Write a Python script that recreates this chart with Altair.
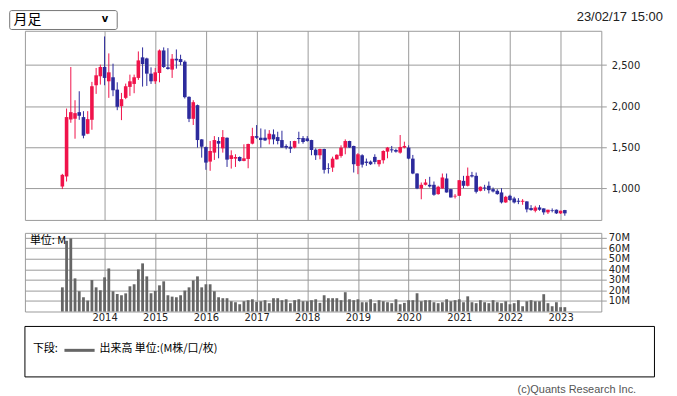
import altair as alt
import pandas as pd

# ---------------- data (monthly candles, March 2013 - February 2023) ----------------
start_month = "2013-03"
opens = [1024, 1146, 1839, 1848, 1928, 1868, 1666, 1835, 2255, 2364,
         2477, 2303, 2352, 2202, 2001, 2102, 2235, 2271, 2344, 2594,
         2581, 2396, 2303, 2404, 2678, 2473, 2445, 2577, 2573, 2541,
         2114, 1847, 2013, 1597, 1504, 1327, 1436, 1577, 1488, 1617,
         1359, 1363, 1383, 1335, 1359, 1545, 1637, 1617, 1617, 1597,
         1658, 1625, 1589, 1517, 1508, 1497, 1613, 1613, 1609, 1589,
         1472, 1404, 1480, 1246, 1254, 1355, 1396, 1497, 1577, 1517,
         1275, 1404, 1327, 1327, 1384, 1295, 1343, 1448, 1476, 1468,
         1436, 1497, 1497, 1363, 1182, 1000, 1045, 1045, 1045, 932,
         1000, 1122, 992, 903, 911, 1093, 1033, 1162, 1154, 972,
         1012, 1033, 992, 972, 952, 831, 911, 879, 851, 839,
         843, 762, 730, 770, 758, 710, 738, 742, 698, 738]
highs = [1178, 1972, 2477, 2073, 2182, 1940, 1940, 2296, 2465, 2505,
         2848, 2642, 2517, 2291, 2162, 2275, 2384, 2384, 2666, 2715,
         2590, 2473, 2465, 2690, 2715, 2706, 2634, 2690, 2626, 2557,
         2120, 2073, 2020, 1600, 1510, 1577, 1637, 1625, 1710, 1620,
         1464, 1416, 1390, 1537, 1545, 1738, 1771, 1730, 1718, 1710,
         1718, 1690, 1702, 1537, 1577, 1580, 1690, 1637, 1637, 1592,
         1488, 1484, 1484, 1307, 1387, 1416, 1525, 1597, 1580, 1520,
         1430, 1416, 1364, 1340, 1416, 1347, 1464, 1505, 1517, 1484,
         1650, 1569, 1525, 1408, 1185, 1073, 1114, 1142, 1085, 1033,
         1182, 1182, 995, 932, 1101, 1154, 1255, 1202, 1194, 1025,
         1045, 1085, 1012, 992, 1004, 911, 924, 899, 883, 871,
         845, 798, 790, 798, 760, 742, 758, 745, 730, 740]
lows = [993, 1085, 1799, 1605, 1835, 1610, 1660, 1714, 2150, 2263,
        2255, 2102, 2122, 1952, 1831, 2086, 2126, 2158, 2320, 2239,
        2247, 2271, 2271, 2291, 2465, 2445, 2344, 2457, 2500, 2094,
        1807, 1772, 1497, 1375, 1227, 1215, 1347, 1367, 1436, 1262,
        1242, 1262, 1327, 1331, 1246, 1537, 1605, 1497, 1577, 1537,
        1537, 1537, 1495, 1476, 1432, 1488, 1545, 1545, 1569, 1404,
        1347, 1355, 1182, 1182, 1202, 1351, 1375, 1416, 1494, 1194,
        1174, 1255, 1275, 1285, 1295, 1266, 1303, 1367, 1436, 1436,
        1424, 1488, 1355, 1174, 992, 869, 1037, 1012, 912, 924,
        998, 950, 891, 879, 909, 1004, 1025, 1134, 940, 965,
        972, 940, 952, 924, 818, 825, 851, 818, 810, 802,
        710, 730, 710, 730, 681, 690, 710, 690, 690, 669]
closes = [1166, 1868, 1928, 1916, 1884, 1642, 1843, 2243, 2376, 2477,
          2344, 2412, 2194, 1993, 2086, 2243, 2303, 2352, 2557, 2513,
          2396, 2303, 2412, 2678, 2477, 2453, 2577, 2557, 2537, 2110,
          1847, 2049, 1589, 1508, 1315, 1456, 1589, 1545, 1625, 1351,
          1404, 1383, 1335, 1367, 1541, 1637, 1617, 1589, 1585, 1666,
          1597, 1577, 1497, 1497, 1484, 1577, 1601, 1565, 1577, 1468,
          1404, 1480, 1227, 1238, 1363, 1410, 1497, 1577, 1497, 1295,
          1416, 1290, 1311, 1295, 1323, 1347, 1456, 1497, 1464, 1448,
          1505, 1517, 1363, 1182, 1000, 1045, 1073, 1025, 924, 1021,
          1134, 952, 891, 911, 1101, 1033, 1154, 1146, 960, 1021,
          1000, 980, 964, 932, 831, 899, 859, 831, 839, 851,
          746, 738, 770, 742, 710, 742, 730, 698, 730, 698]
volumes_m = [22.9, 67.0, 69.2, 31.4, 19.2, 13.5, 10.4, 29.8, 22.9, 20.1,
             32.4, 40.8, 19.2, 16.6, 15.4, 17.2, 23.9, 25.8, 39.9, 45.6,
             33.3, 17.2, 19.5, 24.8, 28.6, 15.4, 14.1, 13.5, 15.4, 19.8,
             22.9, 29.5, 33.3, 22.9, 25.8, 25.8, 19.2, 13.5, 12.6, 12.6,
             9.7, 8.8, 6.9, 9.7, 10.7, 11.6, 9.1, 9.7, 10.7, 7.9,
             12.6, 12.6, 10.7, 11.6, 7.9, 10.7, 11.6, 9.7, 9.7, 10.7,
             11.6, 8.2, 15.4, 12.6, 12.6, 12.6, 10.7, 18.3, 11.6, 10.7,
             11.6, 8.8, 8.8, 11.6, 7.9, 10.7, 9.7, 8.8, 7.9, 11.6,
             6.9, 8.2, 10.7, 10.7, 17.3, 9.7, 10.7, 10.7, 8.8, 7.9,
             8.8, 11.6, 9.7, 10.7, 11.6, 8.8, 14.4, 8.8, 7.9, 10.7,
             8.8, 7.9, 10.7, 8.8, 7.9, 9.7, 6.9, 7.9, 10.7, 5.0,
             9.7, 10.7, 9.7, 9.7, 16.4, 7.9, 5.0, 8.8, 4.1, 4.1]

year_ticks = list(range(2014, 2024))
price_ticks = [1000, 1500, 2000, 2500]
volume_ticks = [10, 20, 30, 40, 50, 60, 70]

months = pd.period_range(start_month, periods=len(opens), freq="M")
df = pd.DataFrame({
    "t": [p.year + (p.month - 1) / 12 for p in months],
    "open": opens, "high": highs, "low": lows, "close": closes,
    "vol": volumes_m,
})
df["dir"] = ["up" if c >= o else "down" for o, c in zip(opens, closes)]

GRID = "#9a9a9a"
NUM_FONT = "DejaVu Sans"
JP_FONT = "Noto Sans CJK JP"

xscale = alt.Scale(domain=[2012.428, 2023.803], nice=False, zero=False, padding=0)
color = alt.Color("dir:N", scale=alt.Scale(domain=["up", "down"], range=["#f0134b", "#2c2a9c"]), legend=None)

x_price = alt.X("t:Q", scale=xscale,
                axis=alt.Axis(values=year_ticks, labels=False, ticks=False, domain=False,
                              grid=True, title=None))
price_axis = alt.Axis(orient="right", values=price_ticks, labelExpr="format(datum.value, ',')",
                      tickSize=5, labelPadding=5, grid=True, domain=False, title=None, tickColor=GRID)
pscale = alt.Scale(domain=[618, 2917], nice=False, zero=False, padding=0)

base = alt.Chart(df)
wicks = base.mark_rule(strokeWidth=1).encode(
    x=x_price,
    y=alt.Y("low:Q", scale=pscale, axis=price_axis),
    y2="high:Q",
    color=color,
)
bodies = base.mark_bar(size=3.6).encode(
    x=x_price,
    y=alt.Y("open:Q", scale=pscale, axis=price_axis),
    y2="close:Q",
    color=color,
)

one = pd.DataFrame({"a": [0]})
sel_box = alt.Chart(one).mark_rect(fill="white", stroke="#767676", strokeWidth=1, cornerRadius=2).encode(
    x=alt.value(-15.3), x2=alt.value(92.7), y=alt.value(-20.3), y2=alt.value(-1.3))
sel_text = alt.Chart(one).mark_text(font=JP_FONT, fontSize=14, align="left", baseline="middle",
                                    color="#000", text="月足").encode(
    x=alt.value(-11.5), y=alt.value(-11))
sel_chev = alt.Chart(one).mark_text(font=NUM_FONT, fontSize=10, fontWeight="bold", align="center",
                                    baseline="middle", color="#000", text="v").encode(
    x=alt.value(80.5), y=alt.value(-11.5))
date_text = alt.Chart(one).mark_text(font="Liberation Sans", fontSize=13, align="right",
                                     baseline="middle", color="#222", text="23/02/17 15:00").encode(
    x=alt.value(641), y=alt.value(-13.5))

price = alt.layer(sel_box, sel_text, sel_chev, date_text, wicks, bodies).properties(width=579, height=190)

# ---------------- volume panel ----------------
x_vol = alt.X("t:Q", scale=xscale,
              axis=alt.Axis(values=year_ticks, format="d", ticks=False, domain=False, grid=True,
                            title=None, labelPadding=1, labelFont=NUM_FONT, labelFontSize=10))
vol_bars = base.mark_bar(size=2.8, color="#666666").encode(
    x=x_vol,
    y=alt.Y("vol:Q", scale=alt.Scale(domain=[0, 74.5], nice=False, padding=0),
            axis=alt.Axis(orient="right", values=volume_ticks, labelExpr="datum.value + 'M'",
                          tickSize=5, labelPadding=2, grid=True, domain=False, title=None,
                          tickColor=GRID)),
)
unit_text = alt.Chart(one).mark_text(font=JP_FONT, fontSize=11, align="left", baseline="middle",
                                     color="#000", text="単位: M").encode(
    x=alt.value(5), y=alt.value(8))
legend_box = alt.Chart(one).mark_rect(fill="white", stroke="#000", strokeWidth=1).encode(
    x=alt.value(0), x2=alt.value(632.4), y=alt.value(94), y2=alt.value(144.7))
leg_lbl = alt.Chart(one).mark_text(font=JP_FONT, fontSize=11, align="left", baseline="middle",
                                   color="#000", text="下段:").encode(
    x=alt.value(8), y=alt.value(117))
leg_line = alt.Chart(one).mark_rule(color="#666666", strokeWidth=3).encode(
    x=alt.value(39.7), x2=alt.value(70), y=alt.value(118))
leg_txt = alt.Chart(one).mark_text(font=JP_FONT, fontSize=11, align="left", baseline="middle",
                                   color="#000", text="出来高 単位:(M株/口/枚)").encode(
    x=alt.value(75), y=alt.value(117))
copy_txt = alt.Chart(one).mark_text(font="Liberation Sans", fontSize=11, align="right",
                                    baseline="middle", color="#555", text="(c)Quants Research Inc.").encode(
    x=alt.value(614), y=alt.value(158))

volume = alt.layer(vol_bars, unit_text, legend_box, leg_lbl, leg_line, leg_txt, copy_txt).properties(
    width=579, height=79)

chart = alt.vconcat(price, volume, spacing=11).properties(
    padding={"left": 0, "top": 0, "right": 5, "bottom": 3}
).configure_view(stroke=GRID, strokeWidth=1).configure_axis(
    gridColor=GRID, gridWidth=1, labelFont=NUM_FONT, labelFontSize=10, labelColor="#222"
)

chart.save("out.html", embed_options={"renderer": "svg", "actions": False})
